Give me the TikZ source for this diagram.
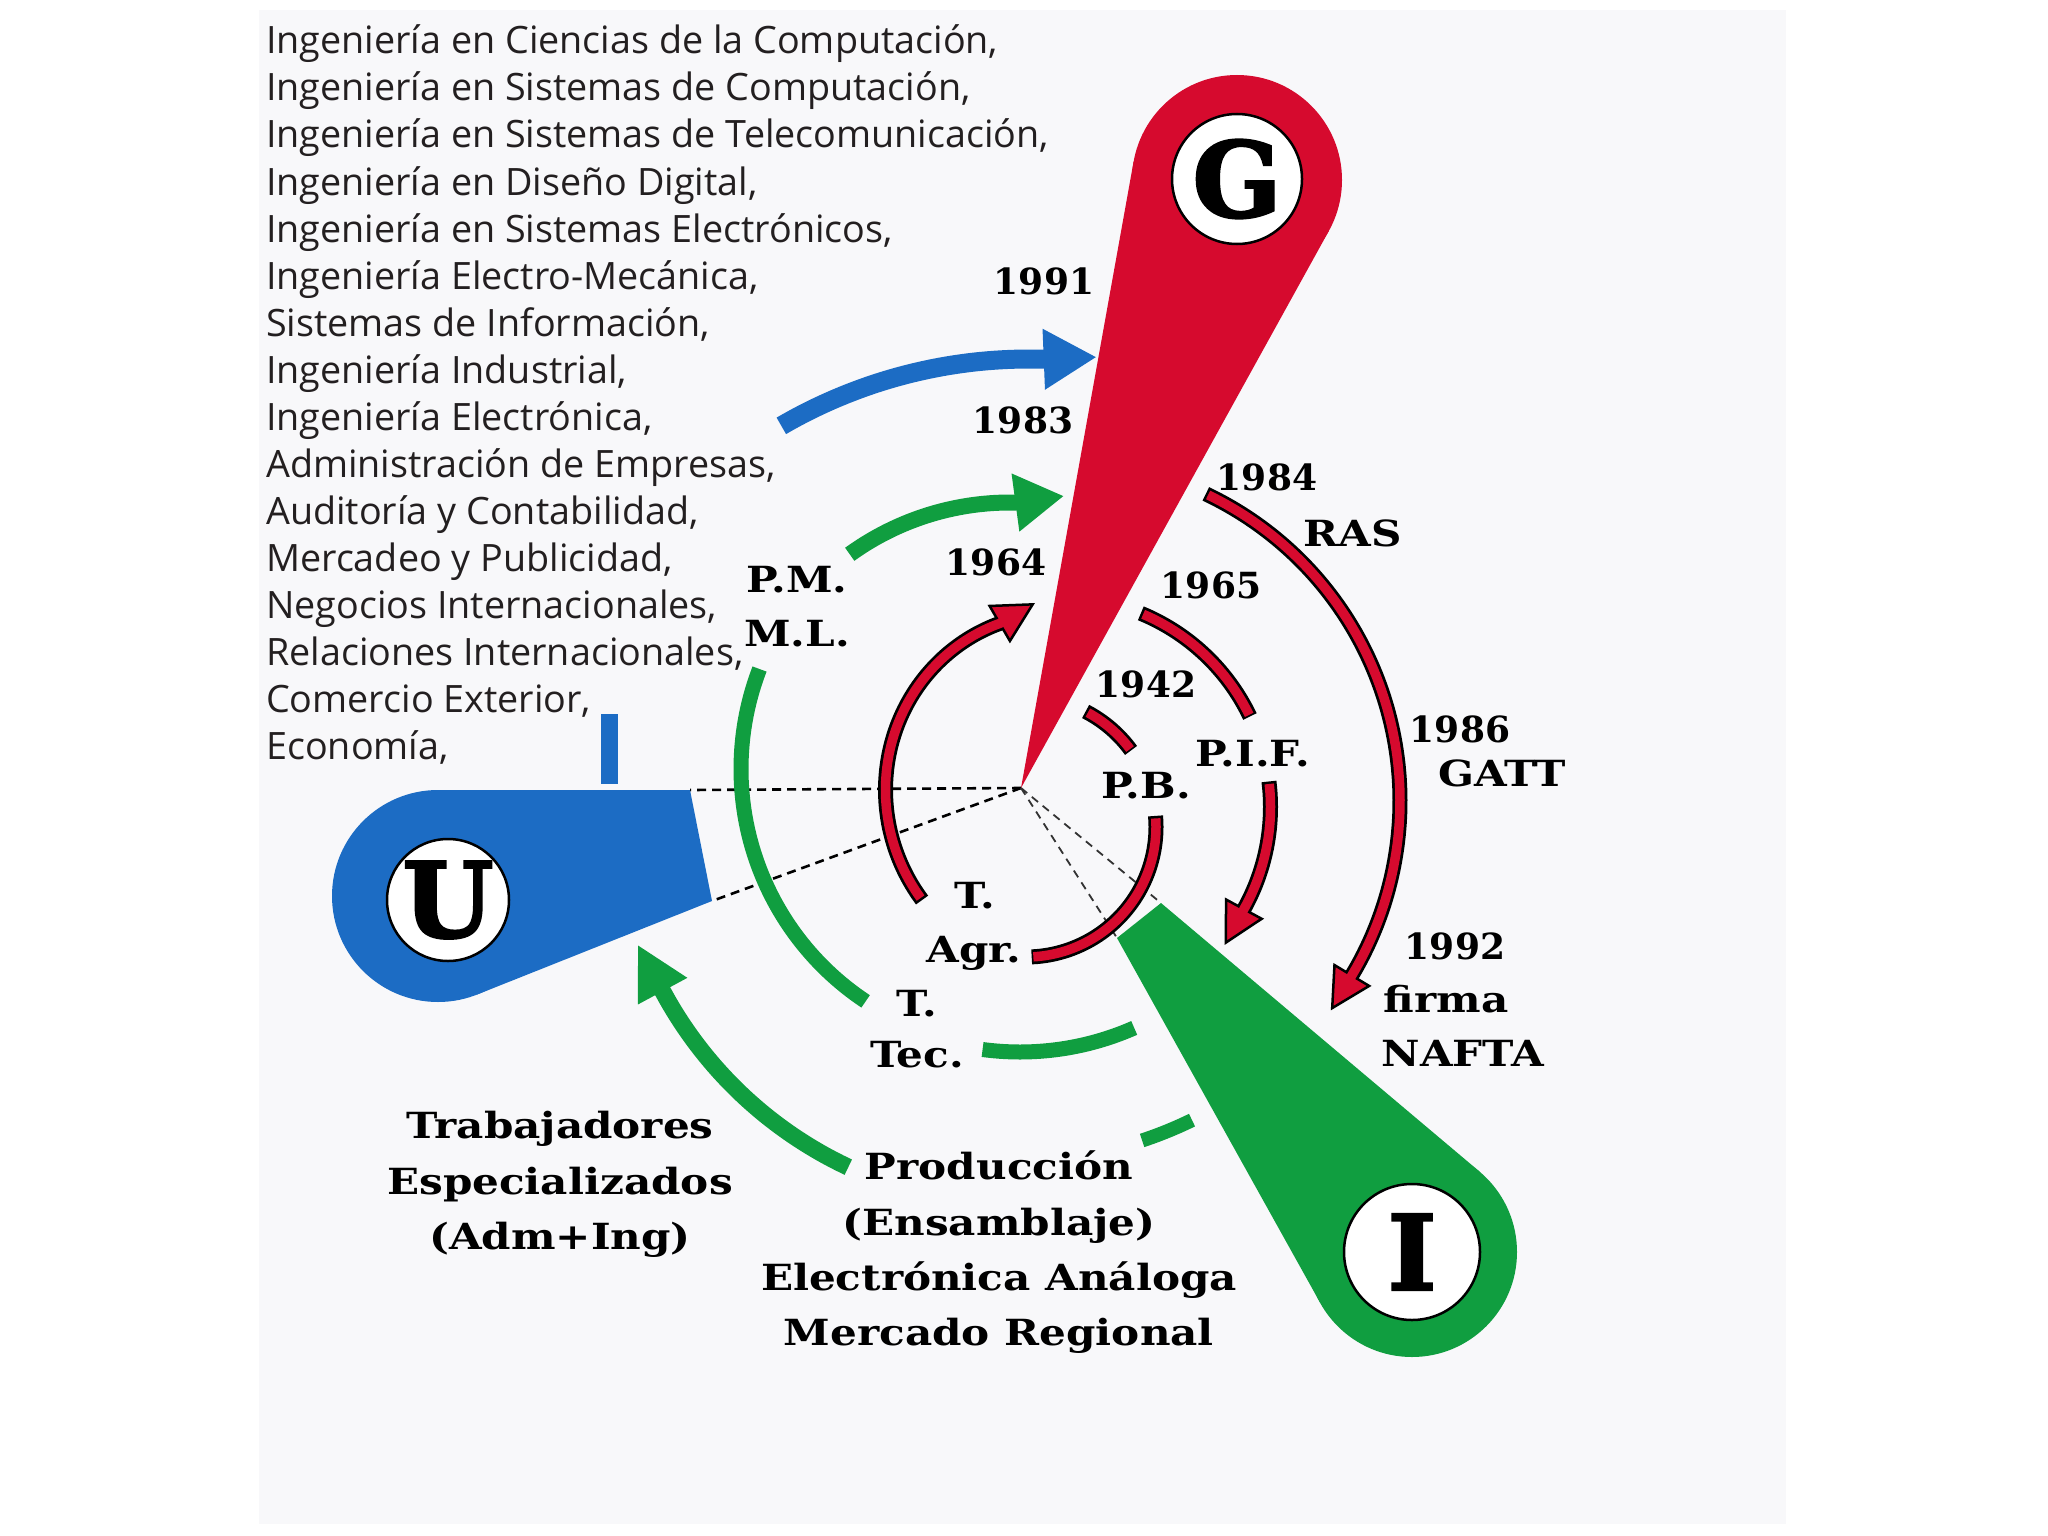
\documentclass[tikz,border=0pt]{standalone}
\usepackage{fontspec}
\setmainfont{Open Sans}
\newfontfamily\slab{DejaVu Serif}
\newfontfamily\slabw{DejaVu Serif}[FakeStretch=1.17]
\newfontfamily\slabheavy{DejaVu Serif}[UprightFont=* Bold, FakeBold=2.5]
\usetikzlibrary{arrows.meta}
\definecolor{myred}{RGB}{214,10,46}
\definecolor{myblue}{RGB}{28,108,196}
\definecolor{mygreen}{RGB}{16,158,64}
\definecolor{bgc}{RGB}{248,248,250}
\definecolor{ink}{RGB}{35,31,32}
\begin{document}
\begin{tikzpicture}[x=1pt,y=-1pt,
  lst/.style={anchor=base west, inner sep=0pt, text=ink, font=\fontsize{37.7}{47}\selectfont},
  lbl/.style={inner sep=0pt, text=black, text height=26pt, text depth=0pt, font=\slab\bfseries\fontsize{36}{44}\selectfont},
  wlbl/.style={inner sep=0pt, text=black, text height=26pt, text depth=0pt, font=\slabw\bfseries\fontsize{36}{44}\selectfont},
  pinlbl/.style={circle, fill=white, draw=black, line width=2.5pt, inner sep=0pt, font=\slabheavy\fontsize{104}{104}\selectfont},
  dashln/.style={draw=black, line width=2.6pt, dash pattern=on 9pt off 6pt},
  dashthin/.style={draw=black!80, line width=1.8pt, dash pattern=on 8pt off 6pt},
  rout/.style={draw=black, line width=15pt},
  rin/.style={draw=myred, line width=9.5pt, shorten <=2.5pt, shorten >=2.5pt},
  rtip/.style={-{Triangle[length=42pt,width=44pt,fill=myred,line width=2.5pt]}},
  rintip/.style={draw=myred, line width=9.5pt, shorten <=2.5pt, shorten >=38pt},
  garrow/.style={draw=mygreen, line width=16pt},
  barrow/.style={draw=myblue, line width=19pt}]
\useasboundingbox (0,0) rectangle (2048,1536);
\fill[bgc] (259,10) rectangle (1786,1524);

% text list
\foreach \t [count=\i] in {{Ingeniería en Ciencias de la Computación,},
 {Ingeniería en Sistemas de Computación,},
 {Ingeniería en Sistemas de Telecomunicación,},
 {Ingeniería en Diseño Digital,},
 {Ingeniería en Sistemas Electrónicos,},
 {Ingeniería Electro-Mecánica,},
 {Sistemas de Información,},
 {Ingeniería Industrial,},
 {Ingeniería Electrónica,},
 {Administración de Empresas,},
 {Auditoría y Contabilidad,},
 {Mercadeo y Publicidad,},
 {Negocios Internacionales,},
 {Relaciones Internacionales,},
 {Comercio Exterior,},
 {Economía,}}
 \node[lst] (l\i) at (266,{54+47*(\i-1)}) {\t};

% key points
\coordinate (O) at (1021,788);
\coordinate (Ua) at (690,790);
\coordinate (Ub) at (712,901);
\coordinate (Ia) at (1117,938);
\coordinate (Ib) at (1161,903);

% dashed lines
\draw[dashln] (O) -- (Ua);
\draw[dashln] (O) -- (Ub);
\draw[dashthin] (O) -- (Ia);
\draw[dashthin] (O) -- (Ib);

% G pin
\fill[myred] (O) -- (1133.6,161.5) -- (1328.9,230.8) -- cycle;
\fill[myred] (1237,180) circle[radius=105];
\node[pinlbl, minimum size=130pt] (G) at (1237,179) {G};

% U pin
\fill[myblue] (438,790) -- (Ua) -- (Ub) -- (477.2,994.5) -- cycle;
\fill[myblue] (438,896) circle[radius=106];
\node[pinlbl, minimum size=122pt] (U) at (448,900) {U};

% I pin
\fill[mygreen] (Ia) -- (Ib) -- (1479.7,1171.7) -- (1320.3,1303) -- cycle;
\fill[mygreen] (1412,1252) circle[radius=105];
\node[pinlbl, minimum size=136pt] (I) at (1412,1252) {I};

% blue bar and blue arrow
\draw[myblue, line width=17pt] (609,714) -- (609,784);
\draw[barrow, -{Triangle[length=53pt,width=57pt]}] plot[domain=239.8:271.7, samples=30, smooth, variable=\t] ({1029+492.4*cos(\t)},{851.4+492.4*sin(\t)}) -- (1096.7,357.1);

% green arrows
\draw[garrow, -{Triangle[length=49pt,width=55pt]}] plot[domain=234.2:271.1, samples=30, smooth, variable=\t] ({1010+274*cos(\t)},{776.5+274*sin(\t)}) -- (1064,496);
\draw[garrow, line width=15pt] plot[domain=123.6:201, samples=40, smooth, variable=\t] ({1020+279*cos(\t)},{769+279*sin(\t)});
\draw[garrow, line width=15pt] plot[domain=66.2:97.6, samples=30, smooth, variable=\t] ({1020+283*cos(\t)},{769+283*sin(\t)});
\draw[garrow, line width=14pt] plot[domain=63.9:71.8, samples=10, smooth, variable=\t] ({1020+391*cos(\t)},{769+391*sin(\t)});
\draw[garrow, line width=17pt, -{Triangle[length=53pt,width=52pt]}] plot[domain=115.2:151.7, samples=30, smooth, variable=\t] ({1022+408*cos(\t)},{798+408*sin(\t)}) -- (637.5,944.5);

% red arrows
\draw[rout, rtip] plot[domain=143.4:243, samples=50, smooth, variable=\t] ({1081+(198-20*((\t-143.4)/100)^2)*cos(\t)},{782+(198-20*((\t-143.4)/100)^2)*sin(\t)}) -- (1035,603);
\draw[rintip] plot[domain=143.4:243, samples=50, smooth, variable=\t] ({1081+(198-20*((\t-143.4)/100)^2)*cos(\t)},{782+(198-20*((\t-143.4)/100)^2)*sin(\t)}) -- (1035,603);

\draw[rout] plot[domain=-62.7:-36.1, samples=12, smooth, variable=\t] ({1026+130*cos(\t)},{827+130*sin(\t)});
\draw[rin] plot[domain=-62.7:-36.1, samples=12, smooth, variable=\t] ({1026+130*cos(\t)},{827+130*sin(\t)});
\draw[rout] plot[domain=-4.9:87.5, samples=40, smooth, variable=\t] ({1026+130*cos(\t)},{827+130*sin(\t)});
\draw[rin] plot[domain=-4.9:87.5, samples=40, smooth, variable=\t] ({1026+130*cos(\t)},{827+130*sin(\t)});

\draw[rout] plot[domain=-67.6:-25.6, samples=25, smooth, variable=\t] ({1061+209.5*cos(\t)},{807+209.5*sin(\t)});
\draw[rin] plot[domain=-67.6:-25.6, samples=25, smooth, variable=\t] ({1061+209.5*cos(\t)},{807+209.5*sin(\t)});
\draw[rout, rtip] plot[domain=-7:29.3, samples=25, smooth, variable=\t] ({1061+209.5*cos(\t)},{807+209.5*sin(\t)}) -- (1224.5,945);
\draw[rintip] plot[domain=-7:29.3, samples=25, smooth, variable=\t] ({1061+209.5*cos(\t)},{807+209.5*sin(\t)}) -- (1224.5,945);

\draw[rout, rtip] plot[domain=-64.6:31, samples=50, smooth, variable=\t] ({1060+340*cos(\t)},{801+340*sin(\t)}) -- (1330.8,1010.4);
\draw[rintip] plot[domain=-64.6:31, samples=50, smooth, variable=\t] ({1060+340*cos(\t)},{801+340*sin(\t)}) -- (1330.8,1010.4);

% labels
\node[lbl] (y1991) at (1044,281) {1991};
\node[lbl] (y1983) at (1023,420) {1983};
\node[lbl] (y1964) at (996,562) {1964};
\node[lbl] (y1984) at (1267,477) {1984};
\node[wlbl] (ras) at (1353,533) {RAS};
\node[lbl] (y1965) at (1211,585) {1965};
\node[lbl] (y1942) at (1146,684) {1942};
\node[wlbl] (pif) at (1253,753) {P.I.F.};
\node[wlbl] (pb) at (1146,785) {P.B.};
\node[lbl] (y1986) at (1460,729) {1986};
\node[wlbl] (gatt) at (1502,773) {GATT};
\node[lbl] (y1992) at (1455,946) {1992};
\node[wlbl] (firma) at (1446,999) {firma};
\node[wlbl] (nafta) at (1463,1053) {NAFTA};
\node[wlbl] (pm) at (797,579) {P.M.};
\node[wlbl] (ml) at (797,633) {M.L.};
\node[wlbl] (ta) at (975,895) {T.};
\node[wlbl] (agr) at (974,949) {Agr.};
\node[wlbl] (tt) at (917,1003) {T.};
\node[wlbl] (tec) at (917,1054) {Tec.};
\node[wlbl] (tr1) at (560,1125) {Trabajadores};
\node[wlbl] (tr2) at (560,1181) {Especializados};
\node[wlbl] (tr3) at (560,1236) {(Adm+Ing)};
\node[wlbl] (pr1) at (999,1166) {Producción};
\node[wlbl] (pr2) at (999,1222) {(Ensamblaje)};
\node[wlbl] (pr3) at (999,1277) {Electrónica Análoga};
\node[wlbl] (pr4) at (999,1332) {Mercado Regional};
\end{tikzpicture}
\end{document}
